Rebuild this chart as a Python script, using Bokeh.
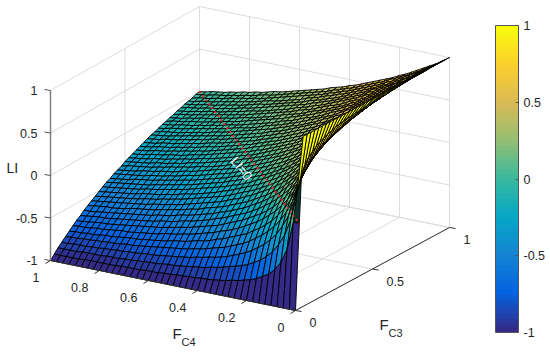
import numpy as np
from bokeh.plotting import figure
from bokeh.models import Range1d, ColorBar, LinearColorMapper, FixedTicker
from bokeh.core.properties import value
from bokeh.embed import file_html
from bokeh.resources import INLINE

# Values
C4_TICKS = [0, 0.2, 0.4, 0.6, 0.8, 1]
C3_TICKS = [0, 0.5, 1]
LI_TICKS = [-1, -0.5, 0, 0.5, 1]
C4_LABELS = ["0", "0.2", "0.4", "0.6", "0.8", "1"]
C3_LABELS = ["0", "0.5", "1"]
LI_LABELS = ["-1", "-0.5", "0", "0.5", "1"]
N_CELLS = 40
# edge row at F_C4 = 0, in hundredths, first two cells; the rest of the row is at 100
EDGE_START = [-100, 0]
# LI in hundredths, for F_C3 above F_C4; each row is one F_C4 step, starting just past the diagonal
LI_UPPER = [
[33,50,60,67,71,75,78,80,82,83,85,86,87,88,88,89,89,90,90,91,91,92,92,92,93,93,93,93,94,94,94,94,94,94,95,95,95,95,95],
[20,33,43,50,56,60,64,67,69,71,73,75,76,78,79,80,81,82,83,83,84,85,85,86,86,87,87,88,88,88,89,89,89,89,90,90,90,90],
[14,25,33,40,45,50,54,57,60,63,65,67,68,70,71,73,74,75,76,77,78,79,79,80,81,81,82,82,83,83,84,84,85,85,85,86,86],
[11,20,27,33,38,43,47,50,53,56,58,60,62,64,65,67,68,69,70,71,72,73,74,75,76,76,77,78,78,79,79,80,80,81,81,82],
[9,17,23,29,33,38,41,44,47,50,52,55,57,58,60,62,63,64,66,67,68,69,70,71,71,72,73,74,74,75,76,76,77,77,78],
[8,14,20,25,29,33,37,40,43,45,48,50,52,54,56,57,59,60,61,63,64,65,66,67,68,68,69,70,71,71,72,73,73,74],
[7,13,18,22,26,30,33,36,39,42,44,46,48,50,52,53,55,56,58,59,60,61,62,63,64,65,66,67,67,68,69,70,70],
[6,11,16,20,24,27,30,33,36,38,41,43,45,47,48,50,52,53,54,56,57,58,59,60,61,62,63,64,64,65,66,67],
[5,10,14,18,22,25,28,31,33,36,38,40,42,44,45,47,49,50,51,53,54,55,56,57,58,59,60,61,62,63,63],
[5,9,13,17,20,23,26,29,31,33,35,38,39,41,43,44,46,47,49,50,51,52,53,55,56,57,57,58,59,60],
[4,8,12,15,19,21,24,27,29,31,33,35,37,39,41,42,44,45,46,48,49,50,51,52,53,54,55,56,57],
[4,8,11,14,17,20,23,25,27,29,31,33,35,37,38,40,41,43,44,45,47,48,49,50,51,52,53,54],
[4,7,10,13,16,19,21,24,26,28,30,32,33,35,37,38,40,41,42,43,45,46,47,48,49,50,51],
[3,7,10,13,15,18,20,22,24,26,28,30,32,33,35,36,38,39,40,42,43,44,45,46,47,48],
[3,6,9,12,14,17,19,21,23,25,27,29,30,32,33,35,36,38,39,40,41,42,43,44,45],
[3,6,9,11,14,16,18,20,22,24,26,27,29,30,32,33,35,36,37,38,40,41,42,43],
[3,6,8,11,13,15,17,19,21,23,24,26,28,29,31,32,33,35,36,37,38,39,40],
[3,5,8,10,12,14,16,18,20,22,23,25,27,28,29,31,32,33,35,36,37,38],
[3,5,7,10,12,14,16,17,19,21,22,24,25,27,28,30,31,32,33,34,36],
[2,5,7,9,11,13,15,17,18,20,22,23,25,26,27,29,30,31,32,33],
[2,5,7,9,11,13,14,16,18,19,21,22,24,25,26,28,29,30,31],
[2,4,6,8,10,12,14,15,17,19,20,21,23,24,25,27,28,29],
[2,4,6,8,10,12,13,15,16,18,19,21,22,23,25,26,27],
[2,4,6,8,9,11,13,14,16,17,19,20,21,23,24,25],
[2,4,6,7,9,11,12,14,15,17,18,19,21,22,23],
[2,4,5,7,9,10,12,13,15,16,17,19,20,21],
[2,4,5,7,8,10,11,13,14,16,17,18,19],
[2,3,5,7,8,10,11,13,14,15,16,18],
[2,3,5,6,8,9,11,12,13,15,16],
[2,3,5,6,8,9,10,12,13,14],
[2,3,5,6,7,9,10,11,13],
[2,3,4,6,7,9,10,11],
[1,3,4,6,7,8,10],
[1,3,4,6,7,8],
[1,3,4,5,7],
[1,3,4,5],
[1,3,4],
[1,3],
[1],
]
PARULA_STOPS = ["#352a87", "#0363e1", "#1485d4", "#06a7c6", "#38b99e", "#92bf73", "#d9ba56", "#fcce2e", "#f9fb0e"]

n = N_CELLS + 1
Z = np.zeros((n, n))
Z[0, :] = 1.0
Z[0, :2] = np.array(EDGE_START) / 100
Z[1:, 0] = -1.0
for r, row in enumerate(LI_UPPER, start=1):
    for k, v in enumerate(row):
        j = r + 1 + k
        Z[r, j] = v / 100
        Z[j, r] = -v / 100
C4 = np.arange(n) / N_CELLS
C3 = np.arange(n) / N_CELLS

# palette
rgb = np.array([[int(c[i:i + 2], 16) for i in (1, 3, 5)] for c in PARULA_STOPS], float)
pos = np.linspace(0, 1, len(PARULA_STOPS))
lv = np.linspace(0, 1, 64)
palette = ["#%02x%02x%02x" % tuple(int(round(np.interp(t, pos, rgb[:, k]))) for k in range(3)) for t in lv]


def proj(c4, c3, z):
    c4, c3, z = np.broadcast_arrays(np.asarray(c4, float), np.asarray(c3, float), np.asarray(z, float))
    x = 295 - 245 * c4 + 154 * c3 - 5 * c4 * c3
    y = 310 - 50 * c4 - 83 * c3 - 1 * c4 * c3 - 85 * (z + 1)
    return x, y


def depth(c4, c3, z):
    return 143.7 * c4 + 233.6 * c3 - 29.6 * z


p = figure(width=550, height=353, x_range=Range1d(0, 550), y_range=Range1d(353, 0),
           output_backend="svg", toolbar_location=None, min_border=0,
           background_fill_color="white", border_fill_color="white", outline_line_color=None)
p.xaxis.visible = False
p.yaxis.visible = False
p.grid.visible = False

# back planes
gx0, gy0, gx1, gy1 = [], [], [], []


def seg(a, b, store=(gx0, gy0, gx1, gy1)):
    xa, ya = proj(*a)
    xb, yb = proj(*b)
    store[0].append(float(xa)); store[1].append(float(ya))
    store[2].append(float(xb)); store[3].append(float(yb))


for t in C4_TICKS:
    seg((t, 0, -1), (t, 1, -1))
    seg((t, 1, -1), (t, 1, 1))
for t in C3_TICKS:
    seg((0, t, -1), (1, t, -1))
    seg((1, t, -1), (1, t, 1))
for t in LI_TICKS:
    seg((0, 1, t), (1, 1, t))
    seg((1, 0, t), (1, 1, t))
p.segment(gx0, gy0, gx1, gy1, line_color="#dcdcdc", line_width=1)

# surface
cells = []
for i in range(N_CELLS):
    for j in range(N_CELLS):
        ii = [i, i + 1, i + 1, i]
        jj = [j, j, j + 1, j + 1]
        zz = Z[ii, jj]
        d = depth(C4[ii].mean(), C3[jj].mean(), zz.mean())
        idx = min(63, int((Z[i, j] + 1) / 2 * 64))
        color = palette[idx]
        if i == 0 and j == 1:
            d = 1e9  # this sliver sits behind the mesh and reads as a dark edge in the reference
            color = "#10302e"
        xs, ys = proj(C4[ii], C3[jj], zz)
        cells.append((d, xs.tolist(), ys.tolist(), color))
cells.sort(key=lambda c: -c[0])
p.patches([c[1] for c in cells], [c[2] for c in cells], fill_color=[c[3] for c in cells],
          line_color="black", line_width=0.9)

# LI = 0 line
rx, ry = proj([1, 0], [1, 0.025], [0, 0])
p.line(rx, ry, line_color="#ff1f2a", line_width=1.8, line_dash="2 3")

# axis lines and ticks
ax = ([], [], [], [])
seg((1, 0, -1), (1, 0, 1), ax)
p.segment(*ax, line_color="#808080", line_width=1.5)
ax2 = ([], [], [], [])
seg((0, 0, -1), (0, 1, -1), ax2)
seg((0, 0, -1), (1, 0, -1), ax2)
p.segment(*ax2, line_color="#333333", line_width=1)

tx, ty = proj(C4_TICKS, 0, -1)
p.segment(tx, ty, tx - 5, ty + 3, line_color="#333333", line_width=1)
tx, ty = proj(0, C3_TICKS, -1)
p.segment(tx, ty, tx + 6, ty + 1, line_color="#333333", line_width=1)
tx, ty = proj(1, 0, LI_TICKS)
p.segment(tx, ty, tx - 6, ty - 1, line_color="#555555", line_width=1)

FONT = value("Liberation Sans")
TC = "#262626"
tx, ty = proj(C4_TICKS, 0, -1)
p.text(tx - 11, ty + 17, text=C4_LABELS, text_font=FONT, text_font_size="12.5px", text_color=TC,
       text_align="right", text_baseline="middle")
tx, ty = proj(0, C3_TICKS, -1)
p.text(tx + 14, ty + 12, text=C3_LABELS, text_font=FONT, text_font_size="12.5px", text_color=TC,
       text_align="left", text_baseline="middle")
tx, ty = proj(1, 0, LI_TICKS)
p.text(tx - 13, ty, text=LI_LABELS, text_font=FONT, text_font_size="12.5px", text_color=TC,
       text_align="right", text_baseline="middle")

# axis titles
p.text([6], [167], text=["LI"], text_font=FONT, text_font_size="14px", text_color=TC,
       text_align="left", text_baseline="middle")
p.text([172], [333], text=["F"], text_font=FONT, text_font_size="15px", text_color=TC,
       text_align="left", text_baseline="middle")
p.text([181], [341], text=["C4"], text_font=FONT, text_font_size="11px", text_color=TC,
       text_align="left", text_baseline="middle")
p.text([379], [324], text=["F"], text_font=FONT, text_font_size="15px", text_color=TC,
       text_align="left", text_baseline="middle")
p.text([388], [332], text=["C3"], text_font=FONT, text_font_size="11px", text_color=TC,
       text_align="left", text_baseline="middle")

# in-plot label
p.text([241], [168], text=["LI=0"], angle=[-52], angle_units="deg", text_font=FONT, text_font_size="13px",
       text_color="white", text_align="center", text_baseline="middle")

# colorbar
mapper = LinearColorMapper(palette=palette, low=-1, high=1)
cb = ColorBar(color_mapper=mapper, location=(495, 21), width=23, height=307, padding=0,
              ticker=FixedTicker(ticks=LI_TICKS), major_label_text_font="Liberation Sans",
              major_label_overrides=dict(zip(LI_TICKS, LI_LABELS)),
              major_label_text_font_size="12.5px", major_label_text_color=TC,
              major_tick_in=3, major_tick_out=0, major_tick_line_color="#555555",
              minor_tick_line_color=None, bar_line_color="#555555", bar_line_width=1,
              label_standoff=5, background_fill_color=None, border_line_color=None)
p.add_layout(cb, "center")

open("out.html", "w").write(file_html(p, INLINE))
